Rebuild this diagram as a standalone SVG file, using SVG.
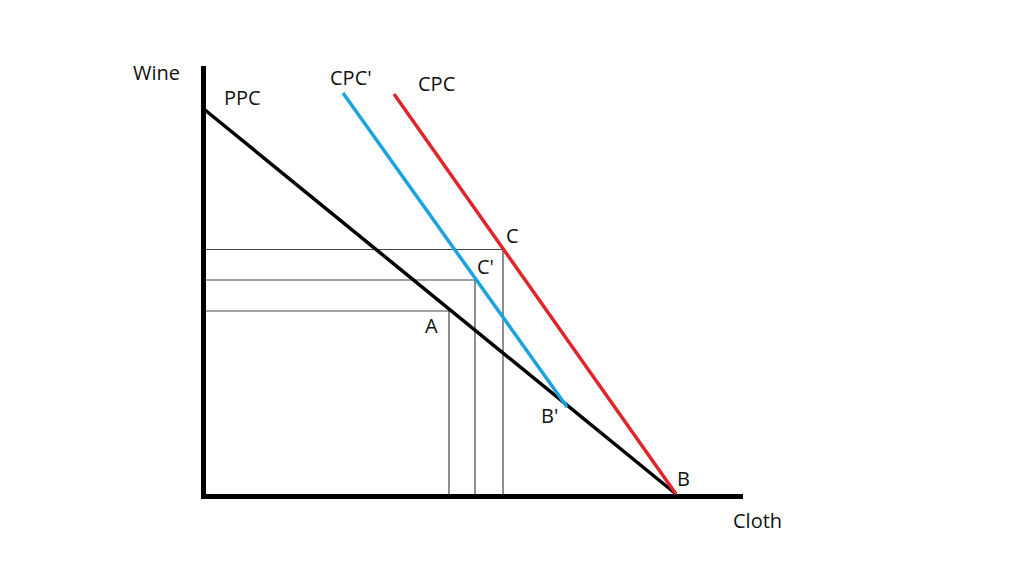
<svg xmlns="http://www.w3.org/2000/svg" width="1024" height="576" viewBox="0 0 1024 576">
<style>
text{font-family:"Open Sans","Liberation Sans",sans-serif;font-size:20px;fill:#111}
.thin{stroke:#444;stroke-width:1.2;fill:none}
</style>
<rect width="1024" height="576" fill="#fff"/>
<g id="guides">
<polyline class="thin" points="205,249.5 503,249.5 503,496"/>
<polyline class="thin" points="205,280 475,280 475,496"/>
<polyline class="thin" points="205,311 449,311 449,496"/>
</g>
<g id="axes" stroke="#000" stroke-width="5">
<line x1="203.5" y1="66" x2="203.5" y2="499"/>
<line x1="201" y1="496.5" x2="743" y2="496.5"/>
</g>
<g id="connectors" stroke-width="3.5" fill="none">
<line id="ppc" x1="205" y1="110" x2="676" y2="494" stroke="#000"/>
<line id="cpcprime" x1="343" y1="93" x2="567" y2="407" stroke="#1aa3e0"/>
<line id="cpc" x1="394" y1="94" x2="676" y2="494" stroke="#e0262b"/>
</g>
<g id="labels">
<text x="133" y="80">Wine</text>
<text x="224" y="105">PPC</text>
<text x="330" y="85">CPC'</text>
<text x="418" y="91">CPC</text>
<text x="506" y="243">C</text>
<text x="477" y="274">C'</text>
<text x="425" y="333">A</text>
<text x="541" y="423">B'</text>
<text x="677" y="486">B</text>
<text x="733" y="528">Cloth</text>
</g>
</svg>
